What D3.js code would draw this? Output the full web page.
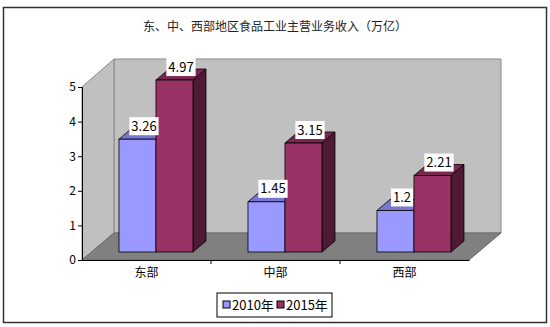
<!DOCTYPE html>
<html>
<head>
<meta charset="utf-8">
<script src="https://cdn.jsdelivr.net/npm/d3@7"></script>
<style>
  body { margin: 0; background: #fff; }
  text { font-family: "Noto Sans CJK SC", "Noto Sans", sans-serif; }
</style>
</head>
<body>
<script>
var w = 550;
var h = 327;

var title = "东、中、西部地区食品工业主营业务收入（万亿）";
var categories = ["东部", "中部", "西部"];
var seriesNames = ["2010年", "2015年"];
var values2010 = [3.26, 1.45, 1.2];
var values2015 = [4.97, 3.15, 2.21];
var yTicks = [0, 1, 2, 3, 4, 5];

var colors = ["#9999ff", "#993366"];
var sideColors = ["#5c5cb0", "#4f1a35"];
var topColors = ["#7777d0", "#7a2852"];

// plot frame (front face of the floor and depth offset)
var x0 = 82, x1 = 469, yFront = 260, yTop = 87;
var depthX = 32, depthY = 27;
var barDepthX = 13, barDepthY = 11;
var barOffset = 8; // bars sit a little back from the floor edge
var barW = 37;

var svg = d3.select("body").append("svg")
  .attr("width", w)
  .attr("height", h);

svg.append("rect")
  .attr("x", 3.5).attr("y", 7.5)
  .attr("width", 543).attr("height", 315)
  .attr("fill", "#fff")
  .attr("stroke", "#333")
  .attr("stroke-width", 1.5);

svg.append("text")
  .attr("x", 275).attr("y", 31)
  .attr("text-anchor", "middle")
  .attr("font-size", "12px")
  .attr("fill", "#222")
  .text(title);

var xScale = d3.scaleBand().domain(categories).range([x0, x1]);
var yAxisScale = d3.scaleLinear().domain([0, 5]).range([yFront, yTop]);
var yBar = d3.scaleLinear().domain([0, 5])
  .range([yFront - barOffset, yTop - barOffset]);
var shiftX = barOffset * depthX / depthY;

function pts(a) { return a.map(function(p){ return p.join(","); }).join(" "); }

// walls and floor
var yBack = yFront - depthY;
svg.append("polygon")
  .attr("points", pts([[x0 + depthX, yTop - depthY - 1], [x1 + depthX, yTop - depthY - 1], [x1 + depthX, yBack], [x0 + depthX, yBack]]))
  .attr("fill", "#c0c0c0").attr("stroke", "#8a8a8a");
svg.append("polygon")
  .attr("points", pts([[x0, yTop], [x0 + depthX, yTop - depthY - 1], [x0 + depthX, yBack], [x0, yFront]]))
  .attr("fill", "#c0c0c0").attr("stroke", "#8a8a8a");
svg.append("polygon")
  .attr("points", pts([[x0, yFront], [x0 + depthX, yBack], [x1 + depthX, yBack], [x1, yFront]]))
  .attr("fill", "#808080").attr("stroke", "#6a6a6a");

// axes
var yAxis = d3.axisLeft(yAxisScale).tickValues(yTicks).tickSize(4).tickFormat(d3.format("d"));
var gy = svg.append("g").attr("transform", "translate(" + x0 + ",0)").call(yAxis);
gy.select(".domain").attr("stroke", "#000");
gy.selectAll("text").attr("font-size", "12px").attr("fill", "#000").attr("x", -6);

var xAxis = d3.axisBottom(xScale).tickSize(0).tickPadding(8);
var gx = svg.append("g").attr("transform", "translate(0," + yFront + ")").call(xAxis);
gx.select(".domain").attr("stroke", "#000");
gx.selectAll("text").attr("font-size", "12px").attr("fill", "#000");
gx.selectAll(".sep").data(categories.slice(1)).enter().append("line")
  .attr("x1", function(d){ return xScale(d); })
  .attr("x2", function(d){ return xScale(d); })
  .attr("y1", 0).attr("y2", 4)
  .attr("stroke", "#000");

// bars
var data = [];
categories.forEach(function(c, i) {
  [values2010[i], values2015[i]].forEach(function(v, s) {
    var bx = xScale(c) + xScale.bandwidth() / 2 + shiftX - barW + s * barW;
    data.push({ cat: c, s: s, v: v, x: bx, y: yBar(v), y0: yBar(0) });
  });
});

var bars = svg.selectAll(".bar").data(data).enter().append("g").attr("class", "bar");

bars.append("polygon")
  .attr("points", function(d){
    return pts([[d.x + barW, d.y], [d.x + barW + barDepthX, d.y - barDepthY], [d.x + barW + barDepthX, d.y0 - barDepthY], [d.x + barW, d.y0]]);
  })
  .attr("fill", function(d){ return sideColors[d.s]; })
  .attr("stroke", "#000").attr("stroke-width", 0.8);

bars.append("polygon")
  .attr("points", function(d){
    return pts([[d.x, d.y], [d.x + barDepthX, d.y - barDepthY], [d.x + barW + barDepthX, d.y - barDepthY], [d.x + barW, d.y]]);
  })
  .attr("fill", function(d){ return topColors[d.s]; })
  .attr("stroke", "#000").attr("stroke-width", 0.8);

bars.append("rect")
  .attr("x", function(d){ return d.x; })
  .attr("y", function(d){ return d.y; })
  .attr("width", barW)
  .attr("height", function(d){ return d.y0 - d.y; })
  .attr("fill", function(d){ return colors[d.s]; })
  .attr("stroke", "#000").attr("stroke-width", 0.8);

// value labels
var labels = svg.selectAll(".lbl").data(data).enter().append("g").attr("class", "lbl")
  .attr("transform", function(d){
    return "translate(" + (d.x + barW / 2 + barDepthX / 2) + "," + (d.y - barDepthY - 2) + ")";
  });
labels.append("text")
  .attr("text-anchor", "middle")
  .attr("dy", "0.35em")
  .attr("font-size", "13px")
  .attr("fill", "#000")
  .text(function(d){ return d.v; });
labels.each(function() {
  var g = d3.select(this);
  var b = g.select("text").node().getBBox();
  g.insert("rect", "text")
    .attr("x", b.x - 2).attr("y", -9)
    .attr("width", b.width + 4).attr("height", 18)
    .attr("fill", "#fff");
});

// legend
var legend = svg.append("g").attr("transform", "translate(217,293)");
legend.append("rect").attr("width", 115).attr("height", 24)
  .attr("fill", "#fff").attr("stroke", "#000");
var items = legend.selectAll(".item").data(seriesNames).enter().append("g")
  .attr("transform", function(d, i){ return "translate(" + (6 + i * 54) + ",0)"; });
items.append("rect")
  .attr("x", 0).attr("y", 8).attr("width", 7).attr("height", 7)
  .attr("fill", function(d, i){ return colors[i]; })
  .attr("stroke", "#000");
items.append("text")
  .attr("x", 9).attr("y", 17)
  .attr("font-size", "13px")
  .attr("fill", "#000")
  .text(function(d){ return d; });
</script>
</body>
</html>
